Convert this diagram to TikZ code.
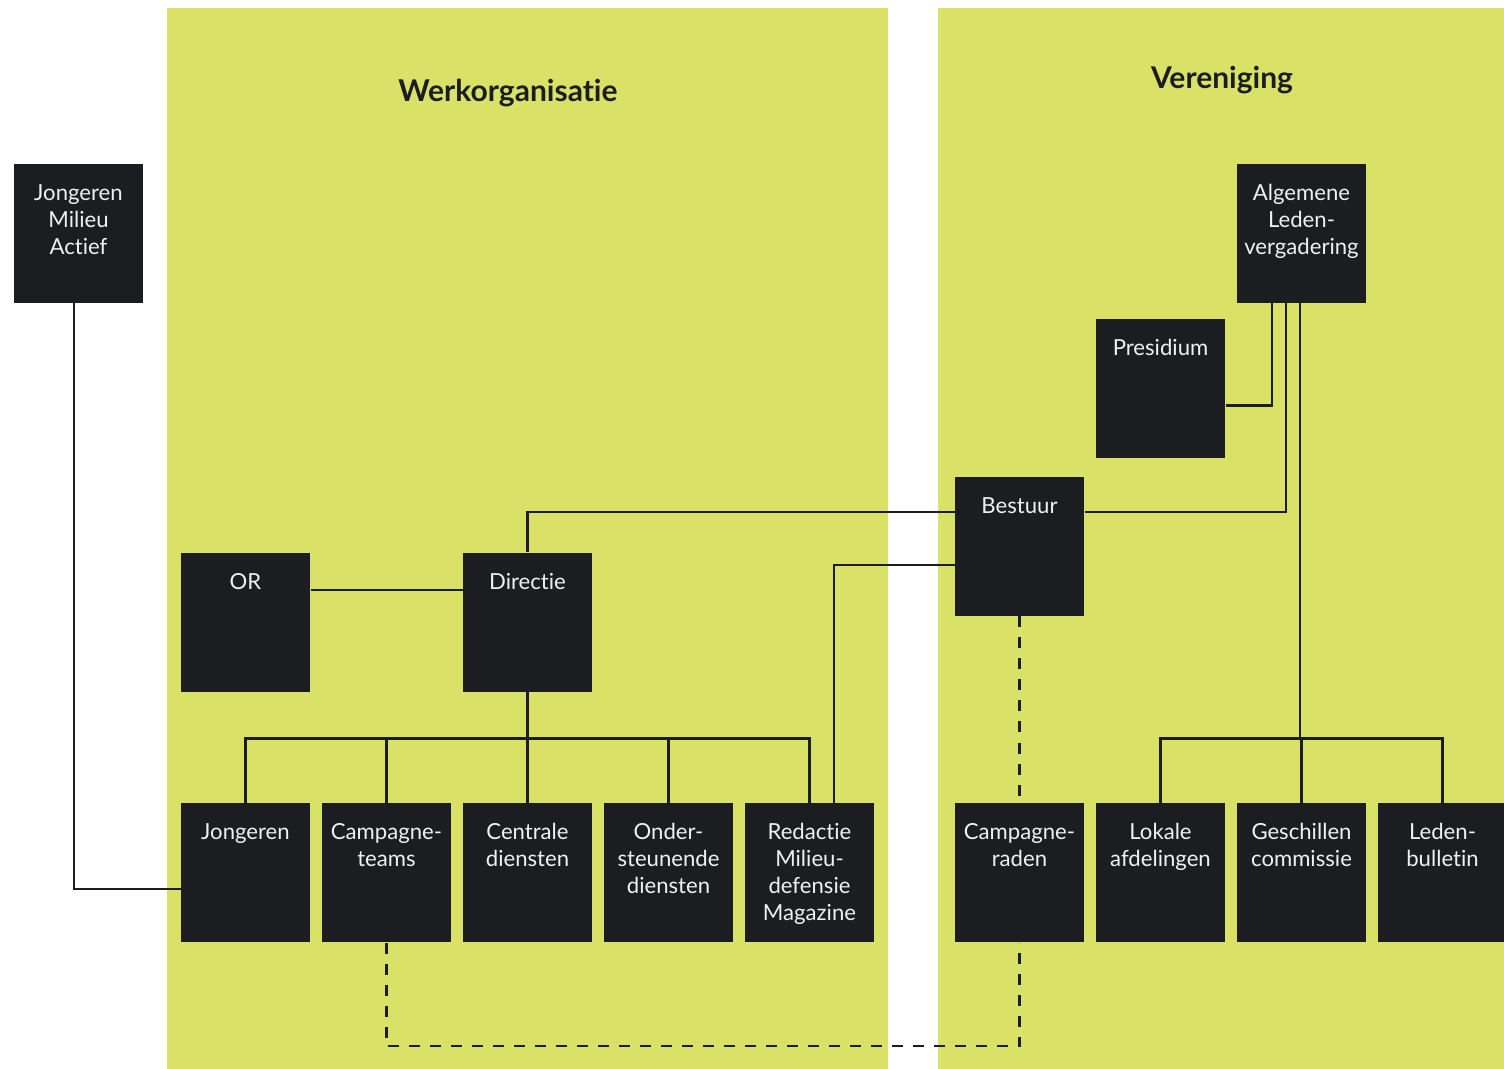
\documentclass[tikz,border=0pt]{standalone}
\usepackage{fontspec}
\setmainfont{Lato}[Ligatures={NoCommon}]
\definecolor{panelgreen}{RGB}{218,225,103}
\definecolor{boxblack}{RGB}{28,29,33}
\definecolor{boxtext}{RGB}{240,240,240}
\tikzset{every picture/.style={line width=0.75pt}}
\tikzset{
  orgbox/.style={fill=boxblack, draw=none, minimum width=96.75pt, minimum height=104.25pt, inner sep=0pt},
  orglabel/.style={anchor=north, yshift=-15.5pt, inner sep=0pt, text=boxtext, align=center, font=\fontsize{16.6}{20.25}\selectfont},
  link/.style={draw=boxblack, line width=1.7pt},
  dashlink/.style={link, dash pattern=on 8.25pt off 7.5pt},
  paneltitle/.style={font=\fontsize{22.5}{27}\selectfont\bfseries, text=boxblack}
}

\begin{document}
\begin{tikzpicture}[x=0.75pt,y=0.75pt,yscale=-1,xscale=1]
\useasboundingbox (0,0) rectangle (1504,1069);

%Shape: Rectangle [panels]
\fill [panelgreen] (167,8) rectangle (888,1069);
\fill [panelgreen] (938,8) rectangle (1504,1069);

% Text Node
\node [paneltitle] (werktitle) at (508,93) {Werkorganisatie};
% Text Node
\node [paneltitle] (vertitle) at (1222,80) {Vereniging};

%Shape: Boxes, upper part
\node [orgbox, label={[orglabel]north:Jongeren\\Milieu\\Actief}] (jma) at (78.5,233.5) {};
\node [orgbox, label={[orglabel]north:Algemene\\Leden-\\vergadering}] (alv) at (1301.5,233.5) {};
\node [orgbox, label={[orglabel]north:Presidium}] (pres) at (1160.5,388.5) {};
\node [orgbox, label={[orglabel]north:Bestuur}] (best) at (1019.5,546.5) {};
\node [orgbox, label={[orglabel]north:OR}] (or) at (245.5,622.5) {};
\node [orgbox, label={[orglabel]north:Directie}] (dir) at (527.5,622.5) {};

%Shape: Boxes, bottom row
\node [orgbox, label={[orglabel]north:Jongeren}] (jong) at (245.5,872.5) {};
\node [orgbox, label={[orglabel]north:Campagne-\\teams}] (camp) at (386.5,872.5) {};
\node [orgbox, label={[orglabel]north:Centrale\\diensten}] (cent) at (527.5,872.5) {};
\node [orgbox, label={[orglabel]north:Onder-\\steunende\\diensten}] (onder) at (668.5,872.5) {};
\node [orgbox, label={[orglabel]north:Redactie\\Milieu-\\defensie\\Magazine}] (red) at (809.5,872.5) {};
\node [orgbox, label={[orglabel]north:Campagne-\\raden}] (raden) at (1019.5,872.5) {};
\node [orgbox, label={[orglabel]north:Lokale\\afdelingen}] (lok) at (1160.5,872.5) {};
\node [orgbox, label={[orglabel]north:Geschillen\\commissie}] (gesch) at (1301.5,872.5) {};
\node [orgbox, label={[orglabel]north:Leden-\\bulletin}] (bull) at (1442.5,872.5) {};

% bend points
\coordinate (jmabend) at (74,889);
\coordinate (orlink) at (386,590);
\coordinate (dirbend) at (527.5,512);
\coordinate (bestbend) at (1286,512);
\coordinate (presbend) at (1272,405.5);
\coordinate (redbend) at (834,565);
\coordinate (dirfork) at (527.5,738.5);
\coordinate (alvfork) at (1300,738.5);
\coordinate (dashbend) at (700,1046);

%Straight Lines
\draw [link] (jma.south -| jmabend) -- (jmabend) -- (jmabend -| jong.west);
\draw [link] (orlink -| or.east) -- (orlink -| dir.west);
\draw [link] (dir.north) -- (dirbend) -- (dirbend -| best.west);
\draw [link] (bestbend -| best.east) -- (bestbend) -- (bestbend |- alv.south);
\draw [link] (presbend -| pres.east) -- (presbend) -- (presbend |- alv.south);
\draw [link] (redbend -| best.west) -- (redbend) -- (redbend |- red.north);
%Straight Lines [tree under Directie]
\draw [link] (dir.south) -- (dirfork);
\draw [link] (jong.north) -- (jong.north |- dirfork) -- (red.north |- dirfork) -- (red.north);
\foreach \n in {camp,cent,onder}
  \draw [link] (\n.north) -- (\n.north |- dirfork);
%Straight Lines [tree under ALV]
\draw [link] (alvfork |- alv.south) -- (alvfork);
\draw [link] (lok.north) -- (lok.north |- alvfork) -- (bull.north |- alvfork) -- (bull.north);
\draw [link] (gesch.north) -- (gesch.north |- alvfork);
%Dashed Lines
\draw [dashlink] (best.south) -- (raden.north);
\draw [dashlink] (camp.south) -- (camp.south |- dashbend) -- (dashbend -| raden.south) -- (raden.south);

\end{tikzpicture}
\end{document}
